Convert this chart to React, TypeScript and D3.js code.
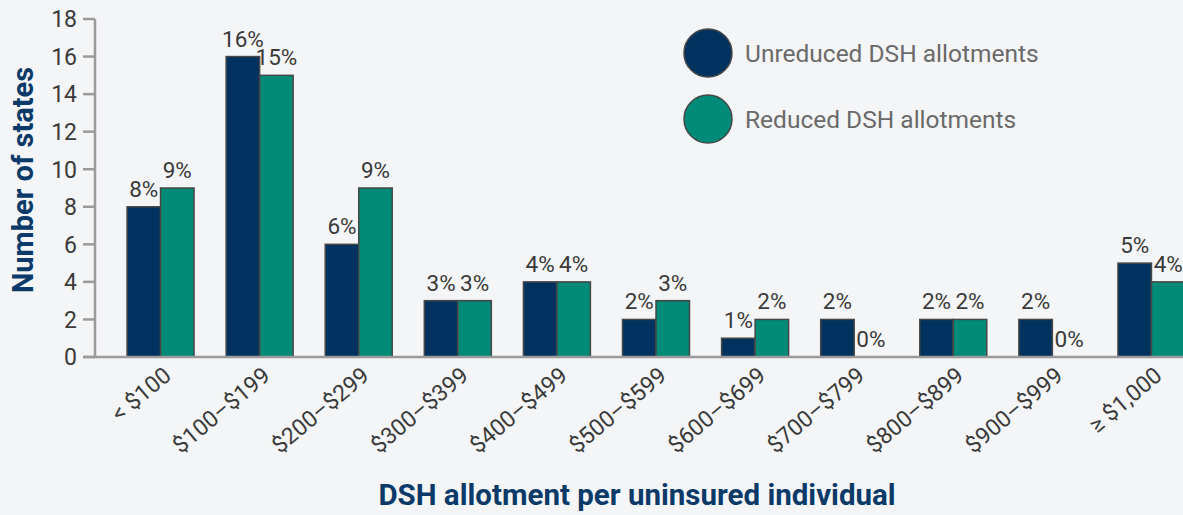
import { useEffect, useRef } from "react";
import * as d3 from "d3";

const categories = [
  "< $100",
  "$100–$199",
  "$200–$299",
  "$300–$399",
  "$400–$499",
  "$500–$599",
  "$600–$699",
  "$700–$799",
  "$800–$899",
  "$900–$999",
  "≥ $1,000",
];
const unreduced = [8, 16, 6, 3, 4, 2, 1, 2, 2, 2, 5];
const reduced = [9, 15, 9, 3, 4, 3, 2, 0, 2, 0, 4];
const unreducedPct = ["8%", "16%", "6%", "3%", "4%", "2%", "1%", "2%", "2%", "2%", "5%"];
const reducedPct = ["9%", "15%", "9%", "3%", "4%", "3%", "2%", "0%", "2%", "0%", "4%"];
const yTicks = [0, 2, 4, 6, 8, 10, 12, 14, 16, 18];
const seriesNames = ["Unreduced DSH allotments", "Reduced DSH allotments"];

const width = 1183;
const height = 515;
const navy = "#00325f";
const teal = "#008a78";
const font = "Roboto, 'Noto Sans', sans-serif";

function App() {
  const svgRef = useRef<SVGSVGElement | null>(null);

  useEffect(() => {
    const svg = d3.select(svgRef.current);
    svg.selectAll("*").remove();

    svg.append("rect").attr("width", width).attr("height", height).attr("fill", "#f4f5f7");

    const yScale = d3.scaleLinear().domain([0, 18]).range([357, 19]);
    const xScale = d3
      .scaleBand()
      .domain(categories)
      .range([111, 1201])
      .paddingInner(0.324)
      .paddingOuter(0.162);
    const sub = d3
      .scaleBand()
      .domain(["u", "r"])
      .range([0, xScale.bandwidth()]);

    // y axis
    const yAxis = svg.append("g");
    yAxis
      .append("line")
      .attr("x1", 95)
      .attr("x2", 95)
      .attr("y1", yScale(18))
      .attr("y2", yScale(0))
      .attr("stroke", "#9a9a9a")
      .attr("stroke-width", 2.5);
    yTicks.forEach((t) => {
      yAxis
        .append("line")
        .attr("x1", 83)
        .attr("x2", 95)
        .attr("y1", yScale(t))
        .attr("y2", yScale(t))
        .attr("stroke", "#9a9a9a")
        .attr("stroke-width", 2.5);
      yAxis
        .append("text")
        .attr("x", 77)
        .attr("y", yScale(t))
        .attr("dy", "0.36em")
        .attr("text-anchor", "end")
        .attr("font-family", font)
        .attr("font-size", 23)
        .attr("fill", "#3a3a3a")
        .text(t);
    });

    // bars
    const groups = svg
      .selectAll("g.grp")
      .data(categories)
      .enter()
      .append("g")
      .attr("class", "grp")
      .attr("transform", (d) => `translate(${xScale(d)},0)`);

    const drawSeries = (key: string, vals: number[], labels: string[], colour: string) => {
      groups
        .append("rect")
        .attr("x", sub(key) as number)
        .attr("y", (_, i) => yScale(vals[i]))
        .attr("width", sub.bandwidth())
        .attr("height", (_, i) => yScale(0) - yScale(vals[i]))
        .attr("fill", colour)
        .attr("stroke", "#474747")
        .attr("stroke-width", 1.5);
      groups
        .append("text")
        .attr("x", (sub(key) as number) + sub.bandwidth() / 2)
        .attr("y", (_, i) => yScale(vals[i]) - 10)
        .attr("text-anchor", "middle")
        .attr("font-family", font)
        .attr("font-size", 22.5)
        .attr("fill", "#3a3a3a")
        .text((_, i) => labels[i]);
    };

    // x axis baseline
    svg
      .append("line")
      .attr("x1", 83)
      .attr("x2", width)
      .attr("y1", yScale(0))
      .attr("y2", yScale(0))
      .attr("stroke", "#9a9a9a")
      .attr("stroke-width", 2.5);

    drawSeries("u", unreduced, unreducedPct, navy);
    drawSeries("r", reduced, reducedPct, teal);

    // category labels
    categories.forEach((c) => {
      const cx = (xScale(c) as number) + xScale.bandwidth() / 2 + 12;
      svg
        .append("text")
        .attr("transform", `translate(${cx},378) rotate(-40)`)
        .attr("text-anchor", "end")
        .attr("font-family", font)
        .attr("font-size", 23)
        .attr("fill", "#3a3a3a")
        .text(c);
    });

    // axis titles
    svg
      .append("text")
      .attr("transform", `translate(33,180) rotate(-90)`)
      .attr("text-anchor", "middle")
      .attr("font-family", font)
      .attr("font-weight", "bold")
      .attr("font-size", 29)
      .attr("fill", "#0b3a68")
      .text("Number of states");
    svg
      .append("text")
      .attr("x", 637)
      .attr("y", 505)
      .attr("text-anchor", "middle")
      .attr("font-family", font)
      .attr("font-weight", "bold")
      .attr("font-size", 29.5)
      .attr("fill", "#0b3a68")
      .text("DSH allotment per uninsured individual");

    // legend
    const legendColors = [navy, teal];
    seriesNames.forEach((name, i) => {
      const cy = 53 + i * 66;
      svg
        .append("circle")
        .attr("cx", 708)
        .attr("cy", cy)
        .attr("r", 24)
        .attr("fill", legendColors[i])
        .attr("stroke", "#474747")
        .attr("stroke-width", 1.5);
      svg
        .append("text")
        .attr("x", 745)
        .attr("y", cy)
        .attr("dy", "0.36em")
        .attr("font-family", font)
        .attr("font-size", 24.5)
        .attr("fill", "#6a6a6a")
        .text(name);
    });
  }, []);

  return (
    <svg
      ref={svgRef}
      width={width}
      height={height}
      style={{ position: "absolute", left: 0, top: 0, display: "block" }}
    ></svg>
  );
}

export default App;
